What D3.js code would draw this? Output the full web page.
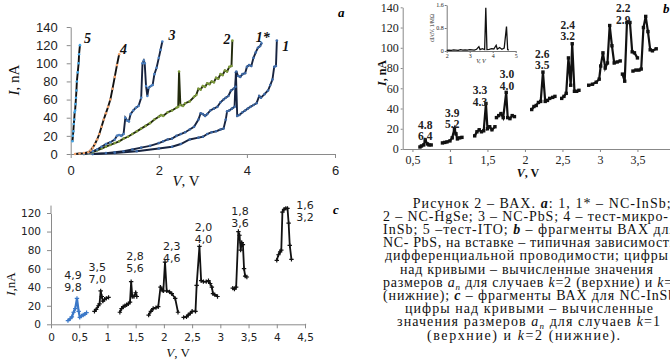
<!DOCTYPE html>
<html>
<head>
<meta charset="utf-8">
<script src="https://cdn.jsdelivr.net/npm/d3@7"></script>
<style>
  body { margin: 0; background: #fff; }
  svg { display: block; }
</style>
</head>
<body>
<script>
// ---- panel a: I-V curves, [V, nA]
const aCurve5 = [[0.04,14],[0.05,20],[0.06,25],[0.07,33],[0.08,38],[0.09,46],[0.1,48],[0.11,55],[0.12,62],[0.13,70],[0.14,80],[0.16,90],[0.18,100],[0.19,110],[0.21,120]];
const aCurve4 = [[0.1,0],[0.2,0.5],[0.3,1],[0.4,2],[0.45,4],[0.5,7],[0.55,11],[0.6,16],[0.65,22],[0.7,30],[0.75,38],[0.8,45],[0.85,52],[0.9,60],[0.95,72],[1.0,85],[1.05,98],[1.1,110]];
const aCurve3 = [[0.3,0],[0.4,1],[0.5,3],[0.6,5],[0.7,8],[0.8,11],[0.9,13],[1.0,16],[1.05,20],[1.1,21],[1.15,20],[1.2,22],[1.24,40],[1.28,37],[1.32,36],[1.36,44],[1.42,48],[1.48,51],[1.54,53],[1.6,62],[1.63,100],[1.66,103],[1.68,100],[1.71,75],[1.74,64],[1.77,73],[1.82,75],[1.86,76],[1.9,88],[1.95,95],[2.0,106],[2.04,115],[2.08,124]];
const aCurve2 = [[0.3,0],[0.4,1],[0.5,2],[0.6,4],[0.7,6],[0.8,8],[0.9,10],[1.0,12],[1.1,14],[1.2,17],[1.3,19],[1.4,22],[1.5,25],[1.6,28],[1.7,31],[1.8,34],[1.9,38],[2.0,41],[2.05,43],[2.1,42],[2.2,46],[2.3,48],[2.4,51],[2.44,52],[2.46,91],[2.49,54],[2.55,53],[2.6,56],[2.7,58],[2.8,63],[2.85,65],[2.9,72],[2.95,71],[3.0,75],[3.05,74],[3.1,78],[3.15,77],[3.2,80],[3.25,79],[3.3,84],[3.35,83],[3.4,88],[3.45,87],[3.5,92],[3.55,91],[3.6,96],[3.65,97],[3.67,125]];
const aCurve1s = [[0.5,0],[0.8,1],[1.0,2],[1.2,3],[1.4,5],[1.6,7],[1.8,9],[2.0,12],[2.1,14],[2.2,16],[2.3,17],[2.4,20],[2.5,22],[2.6,24],[2.7,27],[2.8,30],[2.9,38],[2.95,45],[3.0,44],[3.05,42],[3.1,44],[3.17,48],[3.25,50],[3.33,52],[3.4,57],[3.47,60],[3.52,62],[3.58,64],[3.64,70],[3.7,72],[3.74,74],[3.76,91],[3.8,86],[3.85,85],[3.9,88],[3.96,89],[4.0,96],[4.05,98],[4.1,97],[4.15,106],[4.2,112],[4.25,117],[4.3,119],[4.33,122]];
const aCurve1 = [[0.5,0],[1.0,1],[1.5,3],[2.0,6],[2.3,8],[2.5,11],[2.7,16],[2.9,18],[3.0,19],[3.1,22],[3.2,24],[3.3,25],[3.4,27],[3.47,28],[3.52,38],[3.55,47],[3.6,48],[3.66,50],[3.72,52],[3.75,90],[3.78,42],[3.83,43],[3.9,46],[3.96,48],[4.02,50],[4.08,52],[4.15,54],[4.22,56],[4.28,64],[4.32,62],[4.4,66],[4.48,70],[4.53,76],[4.58,82],[4.62,96],[4.66,97],[4.68,125]];
const aXTicks = [0, 2, 4, 6];
const aYTicks = [0, 20, 40, 60, 80, 100, 120, 140];
const aLabels = ["5", "4", "3", "2", "1*", "1"];

// ---- panel b: NC-PbS fragments
const bSegments = [
  [[0.6,2],[0.62,3],[0.65,4],[0.67,9],[0.7,5],[0.72,4],[0.75,4]],
  [[0.9,6],[0.93,6.5],[0.96,7],[1.0,8],[1.03,11],[1.06,20],[1.08,15],[1.1,10],[1.13,11],[1.16,11.5]],
  [[1.33,13],[1.36,17],[1.39,19],[1.42,17],[1.45,18],[1.48,45],[1.5,20],[1.53,22],[1.56,19],[1.6,22]],
  [[1.62,31],[1.65,33],[1.68,35],[1.71,31],[1.75,56],[1.77,31],[1.8,30],[1.83,33],[1.86,32]],
  [[2.09,39],[2.12,42],[2.15,43],[2.18,46],[2.21,47],[2.24,76],[2.27,47],[2.3,48],[2.33,50],[2.37,51],[2.4,52]],
  [[2.49,50],[2.52,52],[2.55,55],[2.58,90],[2.61,63],[2.63,104],[2.66,57],[2.69,57],[2.72,58]],
  [[2.85,63],[2.9,64],[2.95,66],[2.99,69],[3.01,82],[3.04,95],[3.07,80],[3.1,85],[3.13,122],[3.16,102],[3.19,85],[3.23,86],[3.27,87]],
  [[3.3,74],[3.33,67],[3.36,125],[3.4,125],[3.43,96],[3.46,95],[3.5,90]],
  [[3.44,77],[3.48,78],[3.52,78],[3.55,79],[3.58,120],[3.61,131],[3.64,116],[3.67,98],[3.7,97],[3.75,99]]
];
const bTop = ["4.8", "3.9", "3.3", "3.0", "2.6", "2.4", "2.2"];
const bBottom = ["6.4", "5.2", "4.3", "4.0", "3.5", "3.2", "2.9"];
const bLabelV = [0.67, 1.03, 1.4, 1.76, 2.23, 2.57, 3.31];
const bLabelI = [20, 32, 54, 70, 90, 119, 135];
const bXTicks = [0.5, 1, 1.5, 2, 2.5, 3, 3.5];
const bYTicks = [0, 20, 40, 60, 80, 100, 120, 140];
// inset: differential conductance
const insetData = [[2,0.02],[2.1,0.03],[2.2,0.02],[2.3,0.04],[2.4,0.03],[2.5,0.02],[2.6,0.05],[2.7,0.03],[2.8,0.04],[2.9,0.03],[3.0,0.05],[3.1,0.04],[3.2,0.03],[3.3,0.06],[3.4,0.15],[3.45,0.05],[3.55,0.08],[3.65,0.05],[3.7,1.5],[3.75,0.05],[3.85,0.06],[3.95,0.08],[4.05,0.07],[4.15,0.2],[4.2,0.06],[4.3,0.12],[4.4,0.06],[4.5,0.1],[4.6,0.85],[4.65,0.05],[4.7,0.03]];
const insetXTicks = [2, 3, 4, 5];
const insetYTicks = [0, 0.8, 1.6];

// ---- panel c: NC-InSb fragments
const cSegments = [
  [[0.3,4],[0.34,6],[0.37,8],[0.4,13],[0.43,17],[0.46,28],[0.49,14],[0.51,7.5],[0.54,9],[0.57,10],[0.6,11],[0.63,12.5]],
  [[0.77,14],[0.8,16],[0.84,20],[0.86,22],[0.88,36],[0.9,30],[0.92,25],[0.95,27],[0.98,28],[1.02,29]],
  [[1.22,13],[1.25,17],[1.28,19],[1.31,20],[1.34,21],[1.37,22],[1.4,24],[1.42,46],[1.44,30],[1.47,30],[1.5,34],[1.52,30]],
  [[1.73,10],[1.77,14],[1.81,17],[1.86,18],[1.9,19],[1.94,40],[1.97,37],[1.99,36],[2.02,67],[2.05,36],[2.1,35],[2.14,33],[2.2,28],[2.25,13]],
  [[2.35,7.5],[2.4,8],[2.43,10],[2.47,12],[2.5,14],[2.56,14],[2.58,42],[2.63,84],[2.66,47],[2.7,46],[2.75,46],[2.79,47],[2.82,44],[2.85,40],[2.87,33],[2.9,32],[2.95,30]],
  [[3.22,39],[3.25,38],[3.28,40],[3.32,100],[3.34,96],[3.36,80],[3.38,88],[3.4,86],[3.42,60],[3.44,52],[3.47,51]],
  [[4.0,69],[4.03,75],[4.06,78],[4.08,80],[4.1,121],[4.13,124],[4.16,125],[4.19,125],[4.21,109],[4.23,85],[4.26,70]]
];
const cTop = ["4,9", "3,5", "2,8", "2,3", "2,0", "1,8", "1,6"];
const cBottom = ["9,8", "7,0", "5,6", "4,6", "4,0", "3,6", "3,2"];
const cLabelV = [0.39, 0.82, 1.49, 2.14, 2.7, 3.35, 4.5];
const cLabelI = [49, 58, 69, 80, 101, 118, 124];
const cXTicks = [0, 0.5, 1, 1.5, 2, 2.5, 3, 3.5, 4, 4.5];
const cYTicks = [0, 20, 40, 60, 80, 100, 120];

const W = 670, H = 362;
const svg = d3.select("body").append("svg").attr("width", W).attr("height", H);
const serif = "'Liberation Serif', 'Times New Roman', serif";
const comma = d => String(d).replace(".", ",");
const plain = d => String(d);

function styleAxis(g, color, font, size) {
    g.selectAll("path, line").attr("stroke", color);
    g.selectAll("text").attr("font-family", font).attr("font-size", size).attr("fill", "#222");
}

// ================= PANEL A =================
const xA = d3.scaleLinear().domain([0, 6]).range([70.7, 335]);
const yA = d3.scaleLinear().domain([0, 140]).range([154, 27]);

svg.append("g").attr("transform", "translate(0,154)")
    .call(d3.axisBottom(xA).tickValues(aXTicks).tickFormat(plain).tickSize(4).tickPadding(8).tickSizeOuter(0))
    .call(g => styleAxis(g, "#8a8a8a", "'Liberation Sans', Arial, sans-serif", 13));
svg.append("g").attr("transform", "translate(70.7,0)")
    .call(d3.axisLeft(yA).tickValues(aYTicks).tickFormat(plain).tickSize(4).tickPadding(9).tickSizeOuter(0))
    .call(g => styleAxis(g, "#8a8a8a", "'Liberation Sans', Arial, sans-serif", 13));

const lineA = d3.line().x(d => xA(d[0])).y(d => yA(d[1]));
const aSeries = [
    {data: aCurve1, line: "#17233f", mark: "#3d6aa8"},
    {data: aCurve1s, line: "#17233f", mark: "#3d6aa8"},
    {data: aCurve2, line: "#222a0c", mark: "#7f9d3c"},
    {data: aCurve3, line: "#17233f", mark: "#4a80c2"},
    {data: aCurve4, line: "#111", mark: "#f2a36c"},
    {data: aCurve5, line: "#111", mark: "#45a6e6"}
];
aSeries.forEach(s => {
    svg.append("path").datum(s.data).attr("d", lineA)
        .attr("fill", "none").attr("stroke", s.line).attr("stroke-width", 1.9);
    svg.append("g").selectAll("circle").data(s.data).enter().append("circle")
        .attr("cx", d => xA(d[0])).attr("cy", d => yA(d[1])).attr("r", 1.3)
        .attr("fill", s.mark);
});

// curve numbers
const aLabelPos = [[0.38, 122], [1.2, 110], [2.3, 126], [3.55, 121], [4.36, 124], [4.88, 114]];
svg.append("g").selectAll("text").data(aLabels).enter().append("text")
    .attr("x", (d, i) => xA(aLabelPos[i][0])).attr("y", (d, i) => yA(aLabelPos[i][1]))
    .attr("text-anchor", "middle")
    .attr("font-family", serif).attr("font-style", "italic").attr("font-weight", "bold")
    .attr("font-size", 14).attr("fill", "#111")
    .text(d => d);

svg.append("text").attr("transform", "translate(19,80) rotate(-90)")
    .attr("text-anchor", "middle").attr("font-family", serif).attr("font-size", 15).attr("fill", "#111")
    .call(t => {
        t.append("tspan").attr("font-style", "italic").text("I");
        t.append("tspan").text(", nA");
    });
svg.append("text").attr("x", 186).attr("y", 186)
    .attr("text-anchor", "middle").attr("font-family", serif).attr("font-size", 15).attr("fill", "#111")
    .call(t => {
        t.append("tspan").attr("font-style", "italic").text("V");
        t.append("tspan").text(", V");
    });
svg.append("text").attr("x", 338).attr("y", 17).attr("font-family", serif)
    .attr("font-style", "italic").attr("font-weight", "bold").attr("font-size", 13).text("a");

// ================= PANEL B =================
const xB = d3.scaleLinear().domain([0.37, 4.07]).range([402.7, 680.2]);
const yB = d3.scaleLinear().domain([0, 140]).range([149, 7.3]);

svg.append("g").attr("transform", "translate(0,149)")
    .call(d3.axisBottom(xB).tickValues(bXTicks).tickFormat(comma).tickSize(3).tickPadding(3).tickSizeOuter(0))
    .call(g => styleAxis(g, "#888", serif, 12));
svg.append("g").attr("transform", "translate(402.7,0)")
    .call(d3.axisLeft(yB).tickValues(bYTicks).tickFormat(plain).tickSize(2).tickPadding(2).tickSizeOuter(0))
    .call(g => styleAxis(g, "#888", serif, 12));

const lineB = d3.line().x(d => xB(d[0])).y(d => yB(d[1]));
bSegments.forEach(seg => {
    svg.append("path").datum(seg).attr("d", lineB)
        .attr("fill", "none").attr("stroke", "#111").attr("stroke-width", 2.2);
    svg.append("g").selectAll("rect").data(seg).enter().append("rect")
        .attr("x", d => xB(d[0]) - 1.7).attr("y", d => yB(d[1]) - 1.7)
        .attr("width", 3.4).attr("height", 3.4).attr("fill", "#111");
});

const bLab = svg.append("g").attr("font-family", serif).attr("font-weight", "bold")
    .attr("font-size", 11.5).attr("fill", "#222").attr("text-anchor", "middle");
bTop.forEach((t, i) => {
    bLab.append("text").attr("x", xB(bLabelV[i])).attr("y", yB(bLabelI[i])).text(t);
    bLab.append("text").attr("x", xB(bLabelV[i])).attr("y", yB(bLabelI[i]) + 11.5).text(bBottom[i]);
});

svg.append("text").attr("transform", "translate(386,73) rotate(-90)")
    .attr("text-anchor", "middle").attr("font-family", serif).attr("font-weight", "bold")
    .attr("font-size", 12).attr("fill", "#111")
    .call(t => {
        t.append("tspan").attr("font-style", "italic").text("I");
        t.append("tspan").text(", nA");
    });
svg.append("text").attr("x", 528).attr("y", 177)
    .attr("text-anchor", "middle").attr("font-family", serif).attr("font-weight", "bold")
    .attr("font-size", 12).attr("fill", "#111")
    .call(t => {
        t.append("tspan").attr("font-style", "italic").text("V");
        t.append("tspan").text(", V");
    });
svg.append("text").attr("x", 663).attr("y", 13).attr("font-family", serif)
    .attr("font-style", "italic").attr("font-weight", "bold").attr("font-size", 13).text("b");

// inset
const xI = d3.scaleLinear().domain([2, 5]).range([446.7, 515.7]);
const yI = d3.scaleLinear().domain([0, 1.6]).range([51, 5]);
svg.append("g").attr("transform", "translate(0,51)")
    .call(d3.axisBottom(xI).tickValues(insetXTicks).tickFormat(plain).tickSize(2).tickPadding(1).tickSizeOuter(0))
    .call(g => styleAxis(g, "#777", serif, 6));
svg.append("g").attr("transform", "translate(446.7,0)")
    .call(d3.axisLeft(yI).tickValues(insetYTicks).tickFormat(plain).tickSize(2).tickPadding(1).tickSizeOuter(0))
    .call(g => styleAxis(g, "#777", serif, 6));
svg.append("path").datum(insetData)
    .attr("d", d3.line().x(d => xI(d[0])).y(d => yI(d[1])))
    .attr("fill", "none").attr("stroke", "#111").attr("stroke-width", 1.3);
svg.append("text").attr("transform", "translate(434,28) rotate(-90)")
    .attr("text-anchor", "middle").attr("font-family", serif).attr("font-size", 5.5).attr("fill", "#222")
    .text("dI/dV, 1/MΩ");
svg.append("text").attr("x", 481).attr("y", 63)
    .attr("text-anchor", "middle").attr("font-family", serif).attr("font-style", "italic")
    .attr("font-size", 6).attr("fill", "#222").text("V, V");

// ================= PANEL C =================
const xC = d3.scaleLinear().domain([0, 4.5]).range([51, 305]);
const yC = d3.scaleLinear().domain([0, 120]).range([324.3, 213]);
const cFont = "'DejaVu Sans', Verdana, sans-serif";

svg.append("g").attr("transform", "translate(0,324.3)")
    .call(d3.axisBottom(xC).tickValues(cXTicks).tickFormat(comma).tickSize(4).tickPadding(5).tickSizeOuter(0))
    .call(g => styleAxis(g, "#8a8a8a", cFont, 10.5));
svg.append("g").attr("transform", "translate(51,0)")
    .call(d3.axisLeft(yC).tickValues(cYTicks).tickFormat(plain).tickSize(4).tickPadding(6).tickSizeOuter(0))
    .call(g => styleAxis(g, "#8a8a8a", cFont, 10.5));
// axis lines run a little past the last tick
svg.append("line").attr("x1", xC(4.5)).attr("x2", xC(4.52)).attr("y1", 324.3).attr("y2", 324.3).attr("stroke", "#8a8a8a");
svg.append("line").attr("x1", 51).attr("x2", 51).attr("y1", yC(120)).attr("y2", yC(128)).attr("stroke", "#8a8a8a");

const lineC = d3.line().x(d => xC(d[0])).y(d => yC(d[1]));
cSegments.forEach((seg, i) => {
    const col = i === 0 ? "#3b78c8" : "#111";
    svg.append("path").datum(seg).attr("d", lineC)
        .attr("fill", "none").attr("stroke", col).attr("stroke-width", i === 0 ? 2.2 : 1.8);
    svg.append("g").selectAll("path").data(seg).enter().append("path")
        .attr("d", d => {
            const x = xC(d[0]), y = yC(d[1]);
            return `M${x - 2.2},${y}H${x + 2.2}M${x},${y - 2.2}V${y + 2.2}`;
        })
        .attr("stroke", col).attr("stroke-width", 1.2);
});

const cLab = svg.append("g").attr("font-family", cFont)
    .attr("font-size", 11).attr("fill", "#222").attr("text-anchor", "middle");
cTop.forEach((t, i) => {
    cLab.append("text").attr("x", xC(cLabelV[i])).attr("y", yC(cLabelI[i])).text(t);
    cLab.append("text").attr("x", xC(cLabelV[i])).attr("y", yC(cLabelI[i]) + 12).text(cBottom[i]);
});

svg.append("text").attr("transform", "translate(15,284) rotate(-90)")
    .attr("text-anchor", "middle").attr("font-family", serif).attr("font-size", 13).attr("fill", "#111")
    .call(t => {
        t.append("tspan").attr("font-style", "italic").text("I");
        t.append("tspan").text(",nA");
    });
svg.append("text").attr("x", 178).attr("y", 357)
    .attr("text-anchor", "middle").attr("font-family", serif).attr("font-size", 13).attr("fill", "#111")
    .call(t => {
        t.append("tspan").attr("font-style", "italic").text("V");
        t.append("tspan").text(", V");
    });
svg.append("text").attr("x", 333).attr("y", 214).attr("font-family", serif)
    .attr("font-style", "italic").attr("font-weight", "bold").attr("font-size", 13).text("c");

// ================= CAPTION =================
// each line: [x start, width, pieces], piece = [text, style]
const I = "i", B = "bi", SUB = "sub", N = "";
const caption = [
    [412.7, 258, [["Рисунок 2 – ВАХ. ", N], ["a", B], [":  1, 1* – NC-InSb;", N]]],
    [383, 285, [["2 – NC-HgSe; 3 – NC-PbS; 4 – тест-микро-", N]]],
    [383, 293, [["InSb; 5 –тест-ITO;   ", N], ["b", B], [" – фрагменты ВАХ для", N]]],
    [383, 293, [["NC- PbS, на вставке – типичная зависимость", N]]],
    [385, 283, [["дифференциальной проводимости; цифры", N]]],
    [400, 253, [["над кривыми – вычисленные значения", N]]],
    [383, 297, [["размеров ", N], ["a", I], ["n", SUB], [" для случаев ", N], ["k", I], ["=2 (верхние) и ", N], ["k", I], ["=3", N]]],
    [383, 297, [["(нижние); ", N], ["c", B], [" – фрагменты ВАХ для NC-InSb;", N]]],
    [405, 248, [["цифры над кривыми – вычисленные", N]]],
    [397, 263, [["значения размеров ", N], ["a", I], ["n", SUB], [" для случаев ", N], ["k", I], ["=1", N]]],
    [427, 193, [["(верхние) и ", N], ["k", I], ["=2 (нижние).", N]]]
];
const capG = svg.append("g").attr("font-family", serif).attr("font-size", 14).attr("fill", "#111");
caption.forEach((ln, i) => {
    const t = capG.append("text").attr("x", ln[0]).attr("y", 207.5 + i * 13.2)
        .attr("textLength", ln[1]).attr("lengthAdjust", "spacing");
    ln[2].forEach(p => {
        const s = t.append("tspan").text(p[0]);
        if (p[1] === I) s.attr("font-style", "italic");
        if (p[1] === B) s.attr("font-style", "italic").attr("font-weight", "bold");
        if (p[1] === SUB) s.attr("font-style", "italic").attr("font-size", 9).attr("dy", 3);
    });
    // restore baseline after subscripts
    t.selectAll("tspan").each(function (d, j, nodes) {
        const prev = nodes[j - 1];
        if (prev && d3.select(prev).attr("dy") === "3") d3.select(this).attr("dy", -3);
    });
});
</script>
</body>
</html>
